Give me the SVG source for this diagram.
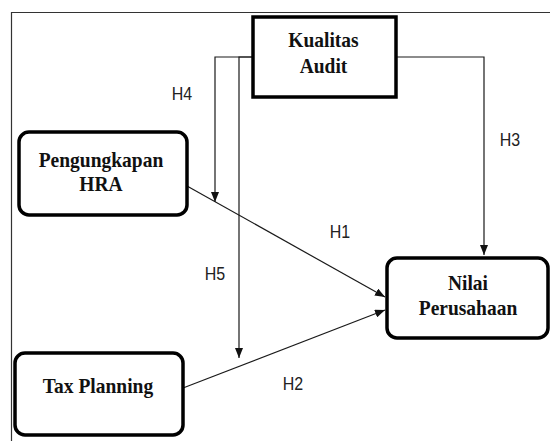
<svg xmlns="http://www.w3.org/2000/svg" width="550" height="441" viewBox="0 0 550 441">
  <defs>
    <marker id="arrow" viewBox="0 0 10 8" refX="10" refY="4" markerWidth="10" markerHeight="8" markerUnits="userSpaceOnUse" orient="auto">
      <path d="M0,0 L10,4 L0,8 z" fill="#111"/>
    </marker>
    <style>
      .box { fill: #fff; stroke: #000; stroke-width: 3.5; }
      .node { font-family: "Liberation Serif", "Times New Roman", serif; font-weight: bold; font-size: 19.5px; fill: #111; text-anchor: middle; }
      .conn { fill: none; stroke: #1a1a1a; stroke-width: 1.2; }
      .lbl { font-family: "Liberation Sans", Arial, sans-serif; font-size: 16px; fill: #222; text-anchor: middle; }
      .frame { fill: none; stroke: #333; stroke-width: 1.2; }
    </style>
  </defs>
  <rect width="550" height="441" fill="#fff"/>
  <path class="frame" d="M11.5,441 V12.5 H550"/>

  <g id="connectors">
    <path class="conn" d="M253,57 H215 V202" marker-end="url(#arrow)"/>
    <path class="conn" d="M253,57 H239 V358" marker-end="url(#arrow)"/>
    <path class="conn" d="M396,57 H484 V255" marker-end="url(#arrow)"/>
    <path class="conn" d="M187,186 L385,297" marker-end="url(#arrow)"/>
    <path class="conn" d="M183,388 L385,310" marker-end="url(#arrow)"/>
  </g>

  <g id="kualitas-audit">
    <rect class="box" x="253" y="17" width="143" height="80"/>
    <text class="node" x="323.5" y="47" transform="matrix(1 0 0 1.12 0 -5.64)">Kualitas</text>
    <text class="node" x="323.5" y="73" transform="matrix(1 0 0 1.12 0 -8.76)">Audit</text>
  </g>

  <g id="pengungkapan-hra">
    <rect class="box" x="19" y="132" width="168" height="83" rx="10" ry="10"/>
    <text class="node" x="101" y="167" transform="matrix(1 0 0 1.12 0 -20.04)">Pengungkapan</text>
    <text class="node" x="101" y="191" transform="matrix(1 0 0 1.12 0 -22.92)">HRA</text>
  </g>

  <g id="tax-planning">
    <rect class="box" x="15" y="353" width="168" height="82" rx="10" ry="10"/>
    <text class="node" x="98" y="393" transform="matrix(1 0 0 1.12 0 -47.16)">Tax Planning</text>
  </g>

  <g id="nilai-perusahaan">
    <rect class="box" x="387" y="258" width="161" height="80" rx="10" ry="10"/>
    <text class="node" x="468" y="290" transform="matrix(1 0 0 1.12 0 -34.8)">Nilai</text>
    <text class="node" x="468" y="315" transform="matrix(1 0 0 1.12 0 -37.8)">Perusahaan</text>
  </g>

  <g id="labels">
    <text class="lbl" x="182" y="100" transform="matrix(1 0 0 1.15 0 -15)">H4</text>
    <text class="lbl" x="510" y="146" transform="matrix(1 0 0 1.15 0 -21.9)">H3</text>
    <text class="lbl" x="340" y="238" transform="matrix(1 0 0 1.15 0 -35.7)">H1</text>
    <text class="lbl" x="215" y="280" transform="matrix(1 0 0 1.15 0 -42)">H5</text>
    <text class="lbl" x="293" y="390" transform="matrix(1 0 0 1.15 0 -58.5)">H2</text>
  </g>
</svg>
